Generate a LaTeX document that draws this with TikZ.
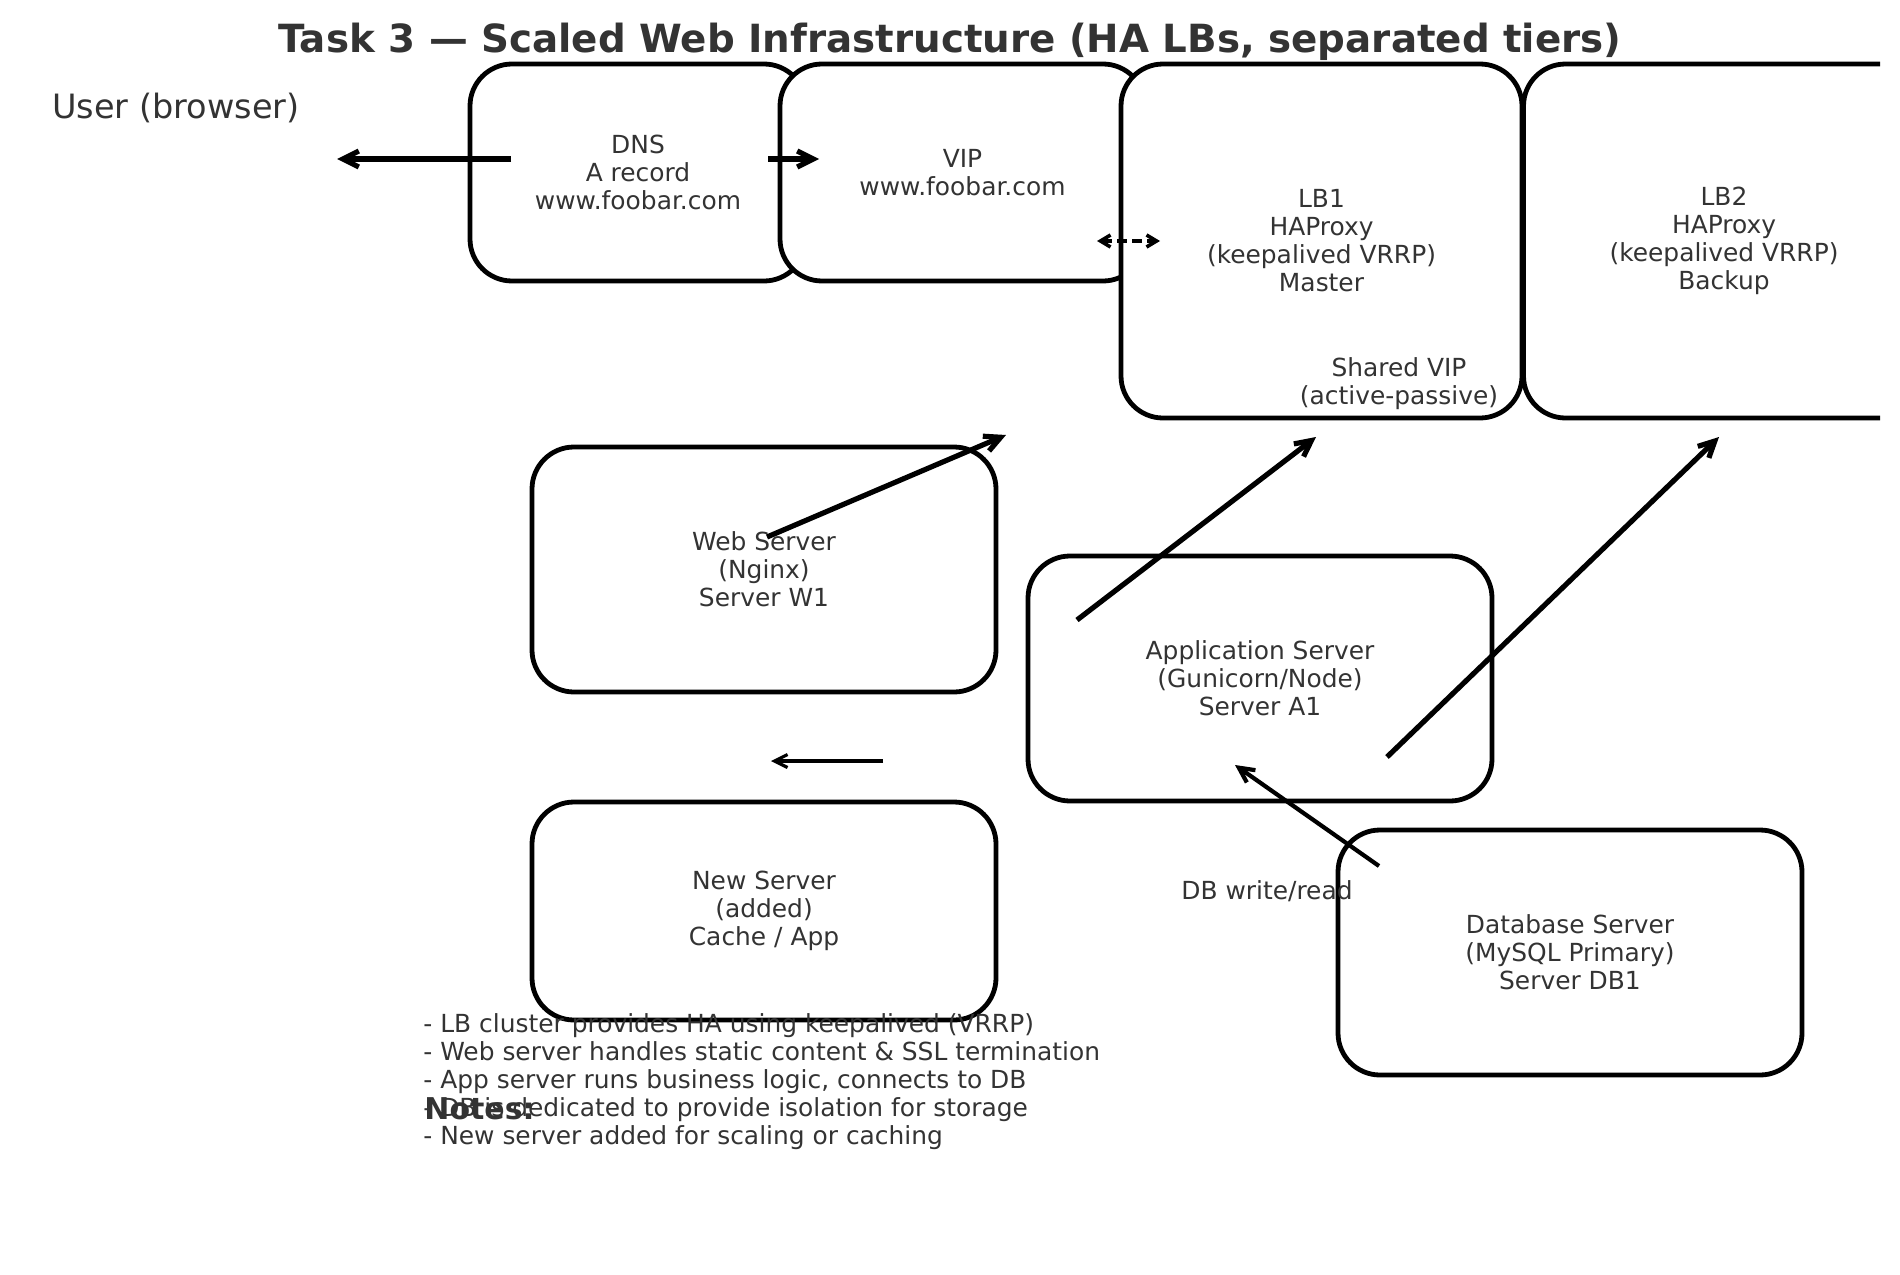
\documentclass[tikz,border=0pt]{standalone}
\usepackage{fontspec}
\setmainfont{DejaVu Sans}
\usetikzlibrary{arrows.meta}
\definecolor{txt}{HTML}{333333}
\tikzset{
  box/.style={draw=black, line width=2.4pt, fill=white, rounded corners=21pt,
    inner sep=0pt, align=center, text=txt, font=\fontsize{12.45}{14}\selectfont},
  lbl/.style={text=txt, align=center, inner sep=0pt, font=\fontsize{12.45}{14}\selectfont},
  bigarrow/.style={line width=2.6pt, -{Straight Barb[length=8pt,width=8pt]}},
  midarrow/.style={line width=2.1pt, -{Straight Barb[length=7.5pt,width=7.5pt]}},
  thinarrow/.style={line width=1.6pt, -{Straight Barb[length=6.5pt,width=6.5pt]}},
  dasharrow/.style={line width=1.8pt, dash pattern=on 5pt off 2.5pt,
    {Straight Barb[length=5pt,width=6pt]}-{Straight Barb[length=5pt,width=6pt]}}
}
\begin{document}
\begin{tikzpicture}[x=0.5pt,y=-0.5pt]
\useasboundingbox (0,0) rectangle (1900,1274);
\fill[white] (0,0) rectangle (1900,1274);
\begin{scope}
\clip (0,0) rectangle (1880,1274);
% title
\node[text=txt, font=\fontsize{19.4}{22}\bfseries\selectfont, inner sep=0pt] (title) at (950,42)
  {Task 3 — Scaled Web Infrastructure (HA LBs, separated tiers)};
\node[text=txt, font=\fontsize{16.75}{19}\selectfont, inner sep=0pt, anchor=west] (user) at (52,108) {User (browser)};
% top row boxes
\node[box, minimum width=168pt, minimum height=108.5pt] (dns) at (638,172.5) {DNS\\A record\\www.foobar.com};
\node[box, minimum width=182.5pt, minimum height=108.5pt] (vip) at (962.5,172.5) {VIP\\www.foobar.com};
\node[box, minimum width=200.5pt, minimum height=177pt] (lb1) at (1321.5,241) {LB1\\HAProxy\\(keepalived VRRP)\\Master};
\node[box, minimum width=200.5pt, minimum height=177pt] (lb2) at (1724,241) {LB2\\HAProxy\\(keepalived VRRP)\\Backup};
\node[lbl] (shared) at (1399,384) {Shared VIP\\(active-passive)};
% servers
\node[box, minimum width=232pt, minimum height=122.5pt] (web) at (764,569.5) {Web Server\\(Nginx)\\Server W1};
\node[box, minimum width=232pt, minimum height=122.5pt] (app) at (1260,678.5) {Application Server\\(Gunicorn/Node)\\Server A1};
\node[box, minimum width=232pt, minimum height=109pt] (new) at (764,911) {New Server\\(added)\\Cache / App};
\node[box, minimum width=232pt, minimum height=122.5pt] (db) at (1570,952.5) {Database Server\\(MySQL Primary)\\Server DB1};
\node[lbl] (dbrw) at (1267,891) {DB write/read};
% notes
\node[text=txt, align=left, inner sep=0pt, anchor=west, font=\fontsize{12.45}{14}\selectfont] (notes) at (423,1082)
  {- LB cluster provides HA using keepalived (VRRP)\\
   - Web server handles static content \& SSL termination\\
   - App server runs business logic, connects to DB\\
   - DB is dedicated to provide isolation for storage\\
   - New server added for scaling or caching};
\node[text=txt, inner sep=0pt, anchor=west, font=\fontsize{15}{18}\bfseries\selectfont] (notestitle) at (424,1109) {Notes:};
% connector endpoints
\coordinate (dnsL) at (511,159);
\coordinate (userR) at (337,159);
\coordinate (dnsR) at (768,159);
\coordinate (vipL) at (819,159);
\coordinate (vipR) at (1097,241);
\coordinate (lb1L) at (1160,241);
\coordinate (webC) at (767,537);
\coordinate (webT) at (1006,435);
\coordinate (appA) at (1077,620);
\coordinate (lb1B) at (1316,437);
\coordinate (appB) at (1387,757);
\coordinate (lb2B) at (1719,437);
\coordinate (gapR) at (883,761);
\coordinate (gapL) at (771,761);
\coordinate (dbA) at (1379,866);
\coordinate (appC) at (1235,765);
% connectors
\draw[bigarrow] (dnsL) -- (userR);
\draw[bigarrow] (dnsR) -- (vipL);
\draw[dasharrow] (vipR) -- (lb1L);
\draw[bigarrow] (webC) -- (webT);
\draw[bigarrow] (appA) -- (lb1B);
\draw[bigarrow] (appB) -- (lb2B);
\draw[thinarrow] (gapR) -- (gapL);
\draw[midarrow] (dbA) -- (appC);
\end{scope}
\end{tikzpicture}
\end{document}
